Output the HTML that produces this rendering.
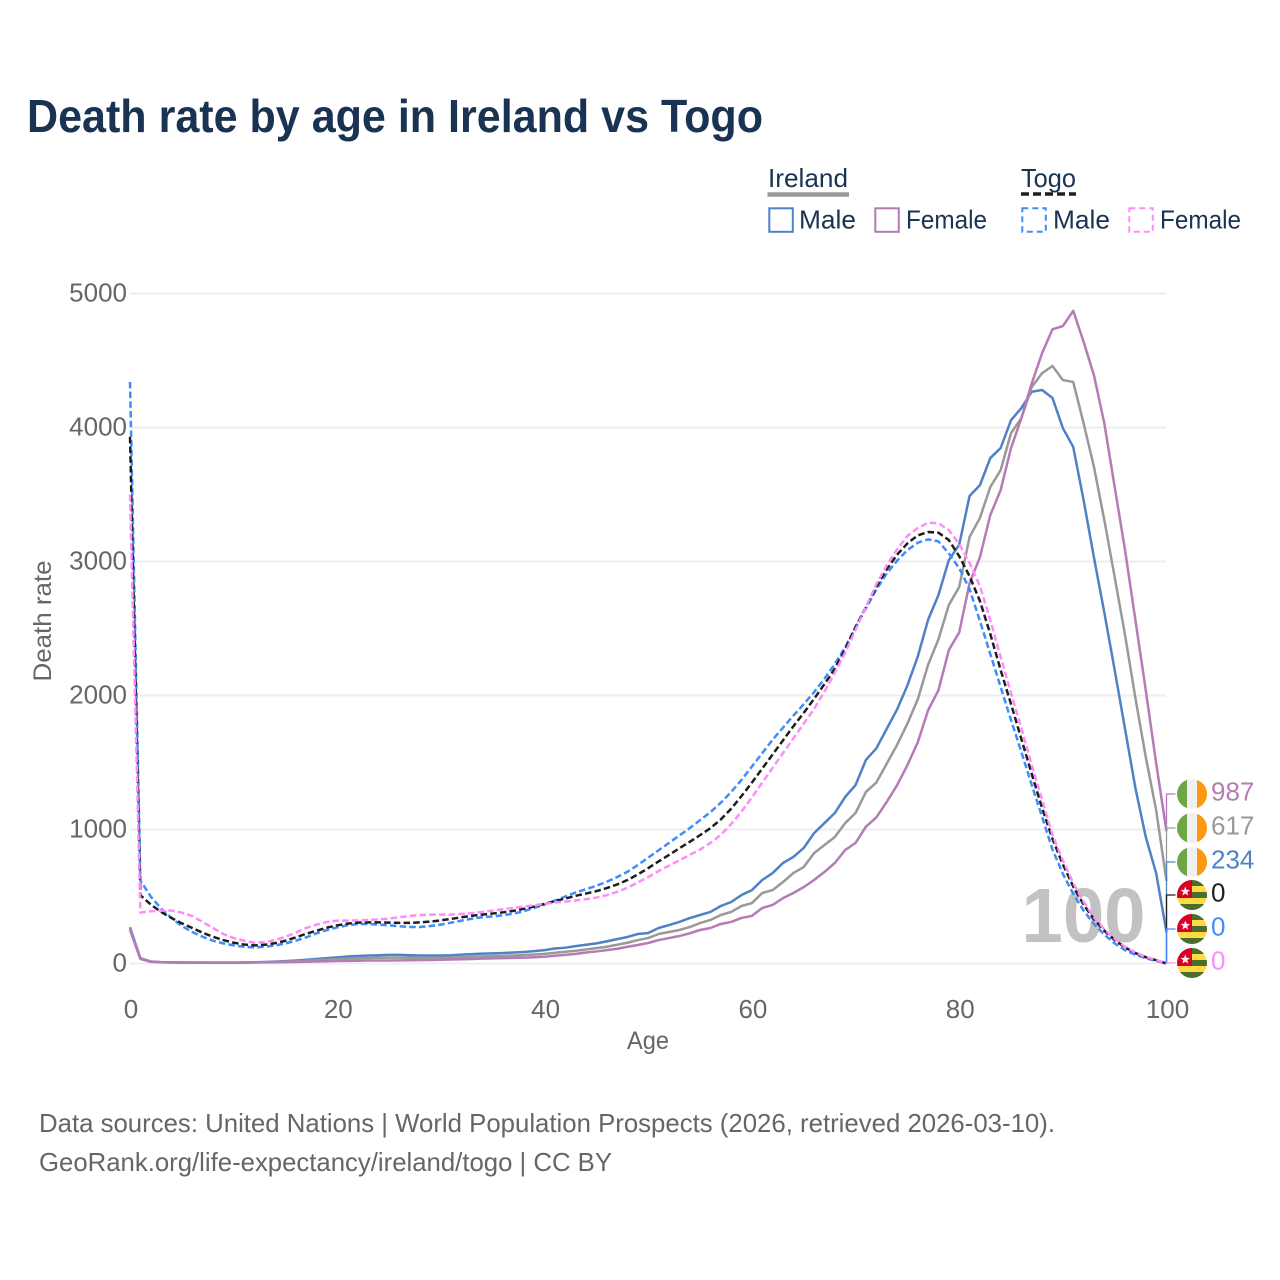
<!DOCTYPE html>
<html lang="en">
<head>
<meta charset="utf-8">
<title>Death rate by age in Ireland vs Togo</title>
<style>
html,body{margin:0;padding:0;background:#fff;}
svg{display:block;font-family:"Liberation Sans",sans-serif;}
</style>
</head>
<body>
<svg id="chart" xmlns="http://www.w3.org/2000/svg" width="1280" height="1280" viewBox="0 0 1280 1280">
  <rect x="0" y="0" width="1280" height="1280" fill="#ffffff"/>
  <text x="27" y="132" font-size="46" font-weight="700" fill="#1a3353" textLength="736" lengthAdjust="spacingAndGlyphs">Death rate by age in Ireland vs Togo</text>

  <g font-size="26" fill="#1a3353">
    <text x="768" y="187" textLength="80" lengthAdjust="spacingAndGlyphs">Ireland</text>
    <line x1="767.5" y1="194.5" x2="849" y2="194.5" stroke="#999999" stroke-width="4.5"/>
    <rect x="769.3" y="208.3" width="23.5" height="23.5" fill="none" stroke="#4f81c7" stroke-width="2"/>
    <text x="799" y="228.5" textLength="57" lengthAdjust="spacingAndGlyphs">Male</text>
    <rect x="875.3" y="208.3" width="23.5" height="23.5" fill="none" stroke="#b57bb6" stroke-width="2"/>
    <text x="906" y="228.5" textLength="81" lengthAdjust="spacingAndGlyphs">Female</text>

    <text x="1021" y="187" textLength="55" lengthAdjust="spacingAndGlyphs">Togo</text>
    <line x1="1021" y1="194" x2="1076" y2="194" stroke="#1e1e1e" stroke-width="3.5" stroke-dasharray="8 4"/>
    <rect x="1022.3" y="208.3" width="23.5" height="23.5" fill="none" stroke="#3f8cff" stroke-width="2" stroke-dasharray="6 4"/>
    <text x="1053" y="228.5" textLength="57" lengthAdjust="spacingAndGlyphs">Male</text>
    <rect x="1129.3" y="208.3" width="23.5" height="23.5" fill="none" stroke="#ff8cf8" stroke-width="2" stroke-dasharray="6 4"/>
    <text x="1160" y="228.5" textLength="81" lengthAdjust="spacingAndGlyphs">Female</text>
  </g>

  <g id="grid"></g>
  <g id="yticks"></g>
  <g id="xticks"></g>
  <text transform="translate(51,621) rotate(-90)" text-anchor="middle" font-size="25" fill="#666666" textLength="121" lengthAdjust="spacingAndGlyphs">Death rate</text>
  <text x="648" y="1049" text-anchor="middle" font-size="25" fill="#666666" textLength="42" lengthAdjust="spacingAndGlyphs">Age</text>

  <text x="1083.5" y="942" text-anchor="middle" font-size="77" font-weight="700" fill="#c2c2c2" textLength="124" lengthAdjust="spacingAndGlyphs">100</text>

  <g id="series"></g>
  <g id="endlabels"></g>

  <text x="39" y="1132" font-size="26" fill="#666666" textLength="1016" lengthAdjust="spacingAndGlyphs">Data sources: United Nations | World Population Prospects (2026, retrieved 2026-03-10).</text>
  <text x="39" y="1171" font-size="26" fill="#666666" textLength="573" lengthAdjust="spacingAndGlyphs">GeoRank.org/life-expectancy/ireland/togo | CC BY</text>
</svg>

<script>
const xTickLabels = [0, 20, 40, 60, 80, 100];
const yTickLabels = [0, 1000, 2000, 3000, 4000, 5000];

const irelandMale = [270,40,15,10,8,8,7,7,7,7,7,8,9,11,14,18,22,28,34,40,46,52,56,60,62,64,64,62,60,60,60,62,66,70,74,76,78,82,86,92,100,112,118,130,140,150,165,182,198,220,228,265,287,310,339,362,385,429,459,511,548,623,675,750,795,862,973,1048,1123,1243,1332,1519,1605,1750,1895,2075,2290,2565,2750,3011,3125,3489,3570,3772,3847,4055,4145,4267,4280,4220,3996,3855,3459,3030,2620,2190,1750,1310,944,675,234];
const irelandTotal = [260,37,14,9,8,7,7,7,6,6,6,7,8,9,11,14,17,21,25,29,33,36,39,41,43,44,44,43,42,42,43,45,47,50,53,55,57,60,63,67,72,80,88,95,105,115,125,140,155,175,190,220,235,250,272,302,325,362,385,429,451,526,548,608,675,720,824,884,944,1048,1123,1280,1350,1490,1630,1790,1970,2230,2420,2675,2810,3183,3325,3556,3682,3958,4070,4302,4406,4459,4354,4340,4032,3706,3310,2884,2451,1981,1541,1145,617];
const irelandFemale = [250,34,13,9,7,6,6,6,6,6,6,6,7,8,9,10,11,13,15,17,19,20,21,22,22,22,23,24,25,26,28,30,32,34,36,38,40,42,44,47,50,58,64,72,82,90,100,110,125,138,153,175,190,205,225,250,265,295,310,340,355,414,437,488,526,570,623,683,750,847,900,1021,1090,1205,1330,1480,1650,1890,2040,2340,2470,2838,3032,3347,3533,3847,4070,4330,4555,4733,4757,4871,4640,4390,4032,3556,3085,2563,2040,1496,987];
const togoMale = [4340,620,500,410,340,280,235,200,170,150,135,125,120,125,135,150,170,195,225,250,270,285,295,295,290,285,278,272,272,280,290,305,320,335,345,352,360,372,390,415,440,470,500,530,555,580,610,645,685,735,790,845,900,955,1010,1070,1130,1200,1280,1370,1470,1570,1670,1760,1850,1935,2025,2125,2235,2360,2510,2650,2790,2910,3005,3085,3140,3165,3150,3060,2950,2795,2556,2310,2063,1817,1578,1332,1093,850,670,520,395,295,215,150,100,65,40,20,0];
const togoTotal = [3930,510,440,385,340,300,265,230,200,175,155,142,135,140,152,170,195,222,245,268,285,298,305,307,307,305,303,303,307,313,322,333,345,356,365,373,382,393,408,425,445,465,485,505,522,540,563,590,623,665,712,762,810,860,908,958,1010,1075,1155,1250,1350,1455,1560,1665,1770,1870,1975,2085,2200,2345,2510,2660,2810,2940,3050,3135,3195,3220,3215,3160,3040,2890,2705,2459,2190,1936,1675,1414,1160,930,740,575,440,330,245,175,120,78,47,25,0];
const togoFemale = [3500,380,390,395,395,380,355,310,265,220,190,170,155,160,175,200,230,265,290,310,320,320,322,325,330,335,345,355,362,365,365,365,370,375,385,395,405,415,425,435,445,455,462,470,480,492,510,535,565,605,645,690,730,770,810,850,900,960,1040,1135,1240,1350,1460,1570,1680,1790,1900,2030,2170,2320,2490,2660,2830,2970,3090,3190,3250,3290,3285,3235,3130,2990,2817,2563,2287,2019,1757,1481,1220,960,770,600,460,345,255,185,125,82,50,27,0];

const NS = 'http://www.w3.org/2000/svg';
const AGE_MAX = 100;
function xScale(age) { return 130 + age * 10.365; }
function yScale(v) { return 963.5 - v * 0.134; }
function node(tag, attrs, parent) {
  const el = document.createElementNS(NS, tag);
  for (const k in attrs) el.setAttribute(k, attrs[k]);
  parent.appendChild(el);
  return el;
}

const gridG = document.getElementById('grid');
const yG = document.getElementById('yticks');
const xG = document.getElementById('xticks');
yTickLabels.forEach(function (t) {
  const line = node('line', {x1: 130, x2: 1166, y1: yScale(t), y2: yScale(t), stroke: '#eeeeee', 'stroke-width': 2}, gridG);
  
  
  const label = node('text', {x: 127, y: yScale(t) + 8, 'text-anchor': 'end', 'font-size': 26, fill: '#666666'}, yG);
  
  
  label.textContent = t;
});
xTickLabels.forEach(function (t) {
  const label = node('text', {x: xScale(t) + 1, y: 1018, 'text-anchor': 'middle', 'font-size': 26, fill: '#666666'}, xG);
  
  
  label.textContent = t;
});

function linePath(values) {
  return values.map(function (v, i) {
    return (i ? 'L' : 'M') + xScale(i * AGE_MAX / (values.length - 1)).toFixed(2) + ' ' + yScale(v).toFixed(2);
  }).join('');
}

const seriesG = document.getElementById('series');
const labelG = document.getElementById('endlabels');

function drawSeries(name, values, color, dashed) {
  const attrs = {d: linePath(values), fill: 'none', stroke: color, 'stroke-width': 2.5, 'stroke-linejoin': 'round'};
  if (dashed) attrs['stroke-dasharray'] = '6.5 3.2';
  const p = node('path', attrs, seriesG);
  
  
}
drawSeries('line-ireland-male', irelandMale, '#4f81c7', false);
drawSeries('line-ireland-total', irelandTotal, '#999999', false);
drawSeries('line-ireland-female', irelandFemale, '#b57bb6', false);
drawSeries('line-togo-male', togoMale, '#3f8cff', true);
drawSeries('line-togo-total', togoTotal, '#1e1e1e', true);
drawSeries('line-togo-female', togoFemale, '#ff8cf8', true);

function irelandFlag(g, cx, cy) {
  node('circle', {cx: cx, cy: cy, r: 15, fill: '#f0f0f0'}, g);
  node('path', {d: 'M' + (cx - 5) + ' ' + (cy - 14.14) + 'A15 15 0 0 0 ' + (cx - 5) + ' ' + (cy + 14.14) + 'Z', fill: '#6da544'}, g);
  node('path', {d: 'M' + (cx + 5) + ' ' + (cy - 14.14) + 'A15 15 0 0 1 ' + (cx + 5) + ' ' + (cy + 14.14) + 'Z', fill: '#ff9811'}, g);
}
let clipCount = 0;
function togoFlag(g, cx, cy) {
  clipCount += 1;
  const id = 'togo-clip-' + clipCount;
  const clip = node('clipPath', {id: id}, g);
  node('circle', {cx: cx, cy: cy, r: 15}, clip);
  const f = node('g', {'clip-path': 'url(#' + id + ')'}, g);
  node('rect', {x: cx - 15, y: cy - 15, width: 30, height: 30, fill: '#ffda44'}, f);
  node('rect', {x: cx, y: cy - 15, width: 15, height: 6, fill: '#496e2d'}, f);
  node('rect', {x: cx, y: cy - 3, width: 15, height: 6, fill: '#496e2d'}, f);
  node('rect', {x: cx - 15, y: cy + 9, width: 30, height: 6, fill: '#496e2d'}, f);
  node('rect', {x: cx - 15, y: cy - 15, width: 15, height: 18, fill: '#d80027'}, f);
  node('path', {d: starPath(cx - 6.7, cy - 3.5, 5), fill: '#f0f0f0'}, f);
}
function starPath(cx, cy, r) {
  let d = '';
  for (let i = 0; i < 10; i++) {
    const rad = i % 2 ? r * 0.42 : r;
    const a = -Math.PI / 2 + i * Math.PI / 5;
    d += (i ? 'L' : 'M') + (cx + rad * Math.cos(a)).toFixed(2) + ' ' + (cy + rad * Math.sin(a)).toFixed(2);
  }
  return d + 'Z';
}

function drawEndLabel(name, values, color, labelY, flag) {
  const last = values[values.length - 1];
  const x0 = xScale(AGE_MAX);
  const c = node('polyline', {points: x0 + ',' + yScale(last) + ' ' + x0 + ',' + (labelY + 2) + ' ' + (x0 + 9) + ',' + (labelY + 2), fill: 'none', stroke: color, 'stroke-width': 1.3}, labelG);
  
  
  const g = node('g', {}, labelG);
  
  
  flag(g, 1192, labelY + 2);
  const t = node('text', {x: 1211, y: labelY + 8.5, 'font-size': 26, fill: color}, labelG);
  
  
  t.textContent = last;
}
drawEndLabel('end-ireland-female', irelandFemale, '#b57bb6', 792, irelandFlag);
drawEndLabel('end-ireland-total', irelandTotal, '#999999', 826, irelandFlag);
drawEndLabel('end-ireland-male', irelandMale, '#4f81c7', 860, irelandFlag);
drawEndLabel('end-togo-total', togoTotal, '#1e1e1e', 893, togoFlag);
drawEndLabel('end-togo-male', togoMale, '#3f8cff', 927, togoFlag);
drawEndLabel('end-togo-female', togoFemale, '#ff8cf8', 961, togoFlag);
</script>
</body>
</html>
